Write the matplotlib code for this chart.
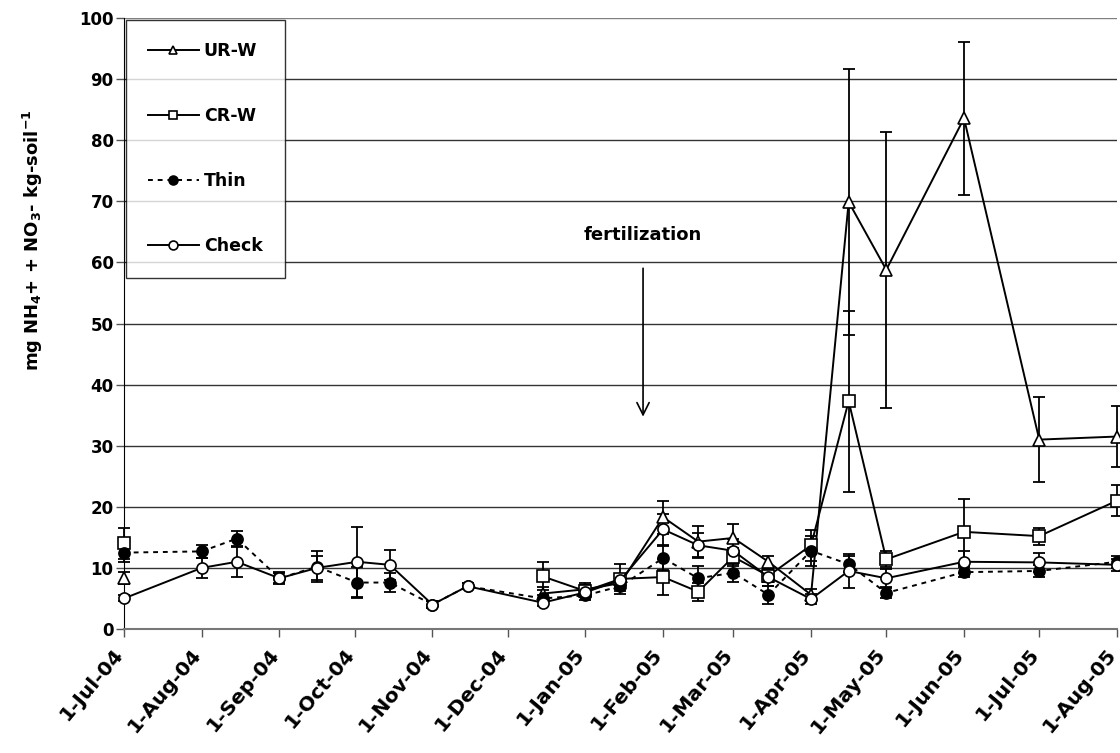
import numpy as np
import pandas as pd
import matplotlib
matplotlib.use('Agg')
import matplotlib.pyplot as plt
import matplotlib.dates as mdates
import matplotlib.transforms as mtransforms
from matplotlib.ticker import FuncFormatter

plt.rcParams['font.family'] = ['DejaVu Sans']
plt.rcParams['font.weight'] = 'bold'
plt.rcParams['mathtext.default'] = 'bf'

# sampling dates
dates = pd.to_datetime([
    '2004-07-01', '2004-08-01', '2004-08-15', '2004-09-01', '2004-09-16',
    '2004-10-02', '2004-10-15', '2004-11-01', '2004-11-15', '2004-12-15',
    '2005-01-01', '2005-01-15', '2005-02-01', '2005-02-15', '2005-03-01',
    '2005-03-15', '2005-04-01', '2005-04-16', '2005-05-01', '2005-06-01',
    '2005-07-01', '2005-08-01'])

nan = np.nan
urw = [8.3, nan, nan, nan, nan, nan, nan, nan, nan, 5.8, 6.5, 7.5, 18.3, 14.3,
       14.9, 11.0, 5.6, 69.9, 58.8, 83.6, 31.0, 31.5]
urw_err = [1.0, nan, nan, nan, nan, nan, nan, nan, nan, 1.0, 1.0, 1.0, 2.7, 2.5,
           2.3, 1.0, 1.0, 21.8, 22.6, 12.5, 6.9, 5.0]
crw = [14.0, nan, nan, nan, nan, nan, nan, nan, nan, 8.6, 6.2, 8.2, 8.5, 6.1,
       11.8, 8.7, 13.7, 37.3, 11.4, 15.9, 15.2, 21.0]
crw_err = [2.5, nan, nan, nan, nan, nan, nan, nan, nan, 2.3, 1.0, 2.5, 3.0, 1.5,
           1.5, 1.0, 2.5, 14.8, 1.3, 5.4, 1.4, 2.5]
thin = [12.5, 12.7, 14.8, 8.3, 10.2, 7.6, 7.6, 4.0, 7.0, 5.0, 5.5, 7.0, 11.6,
        8.3, 9.2, 5.6, 12.8, 10.6, 5.9, 9.3, 9.5, 11.0]
thin_err = [1.5, 1.0, 1.2, 1.0, 2.5, 2.5, 1.5, 0.5, 0.5, 0.5, 0.7, 0.8, 2.0,
            2.0, 1.5, 1.5, 2.5, 1.3, 0.8, 0.8, 1.0, 1.0]
check = [5.0, 10.0, 11.0, 8.3, 10.0, 11.0, 10.5, 4.0, 7.0, 4.3, 6.0, 8.0, 16.3,
         13.7, 12.8, 8.5, 4.9, 9.5, 8.3, 11.0, 10.9, 10.5]
check_err = [0.5, 1.7, 2.5, 0.8, 2.0, 5.7, 2.5, 0.5, 0.5, 0.5, 0.8, 1.0, 2.5,
             2.0, 2.0, 1.5, 0.8, 2.8, 1.5, 1.8, 1.5, 1.0]

fig = plt.figure(figsize=(11.2, 7.53), dpi=100)
ax = fig.add_axes([0.1107, 0.1647, 0.8866, 0.8113])

ax.set_ylim(0, 100)
ax.set_yticks(range(0, 101, 10))
ax.set_xlim(pd.Timestamp('2004-07-01'), pd.Timestamp('2005-08-01'))
for v in range(10, 101, 10):
    ax.axhline(v, color='#333333' if v < 100 else '#808080', lw=1.0, zorder=0)

def series(vals, errs, marker, mfc, ls, label):
    v = np.array(vals, dtype=float)
    e = np.array(errs, dtype=float)
    ok = ~np.isnan(v)
    # error bars
    ax.errorbar(dates[ok], v[ok], yerr=e[ok], fmt='none', ecolor='black',
                elinewidth=1.3, capsize=4, capthick=1.3, zorder=2, clip_on=False)
    # line with gaps
    ax.plot(dates, v, color='black', lw=1.4, ls=ls, marker=marker, ms=8,
            mfc=mfc, mec='black', mew=1.2, label=label, zorder=3, clip_on=False)

series(urw, urw_err, '^', 'white', '-', 'UR-W')
series(crw, crw_err, 's', 'white', '-', 'CR-W')
series(thin, thin_err, 'o', 'black', (0, (2.5, 2.5)), 'Thin')
series(check, check_err, 'o', 'white', '-', 'Check')

ax.annotate('', xy=(pd.Timestamp('2005-01-24'), 34.3),
            xytext=(pd.Timestamp('2005-01-24'), 59.5),
            arrowprops=dict(arrowstyle='->', color='black', lw=1.2,
                            mutation_scale=22))
ax.text(pd.Timestamp('2005-01-24'), 64.5, 'fertilization', ha='center',
        va='center', fontsize=13, fontweight='bold')

ax.xaxis.set_major_locator(mdates.MonthLocator(bymonthday=1))
ax.xaxis.set_major_formatter(FuncFormatter(
    lambda x, pos: (lambda d: f"{d.day}-{d:%b-%y}")(mdates.num2date(x))))
ax.tick_params(axis='both', direction='out', length=6, width=1, color='#555555')
ax.tick_params(axis='x', pad=4)
ax.tick_params(axis='y', pad=1.5)
plt.setp(ax.get_yticklabels(), fontsize=12, fontweight='bold')

# rotated date labels, nudged left/down like the original
shift = mtransforms.ScaledTranslation(-4 / 100, -8 / 100, fig.dpi_scale_trans)
for lab in ax.get_xticklabels():
    lab.set_rotation(50)
    lab.set_ha('right')
    lab.set_va('center')
    lab.set_rotation_mode('anchor')
    lab.set_fontsize(14.5)
    lab.set_fontweight('bold')
    lab.set_transform(lab.get_transform() + shift)

for s in ['top', 'right']:
    ax.spines[s].set_visible(False)
ax.spines['left'].set_color('black')
ax.spines['bottom'].set_color('#777777')
ax.spines['bottom'].set_linewidth(1.5)

ax.set_ylabel('mg NH$_4$+ + NO$_3$- kg-soil$^{-1}$', fontsize=13,
              fontweight='bold')
ax.yaxis.set_label_coords(-0.08, 0.637)

leg = ax.legend(loc='upper left', bbox_to_anchor=(0.0, 1.0), fontsize=12.5,
                frameon=True, fancybox=False, edgecolor='black',
                labelspacing=2.7, handlelength=2.9, handletextpad=0.3,
                borderpad=1.3, borderaxespad=0.1, markerscale=0.8)
leg.get_frame().set_linewidth(1.0)
for t in leg.get_texts():
    t.set_fontweight('bold')

fig.savefig('out.png', dpi=100)
